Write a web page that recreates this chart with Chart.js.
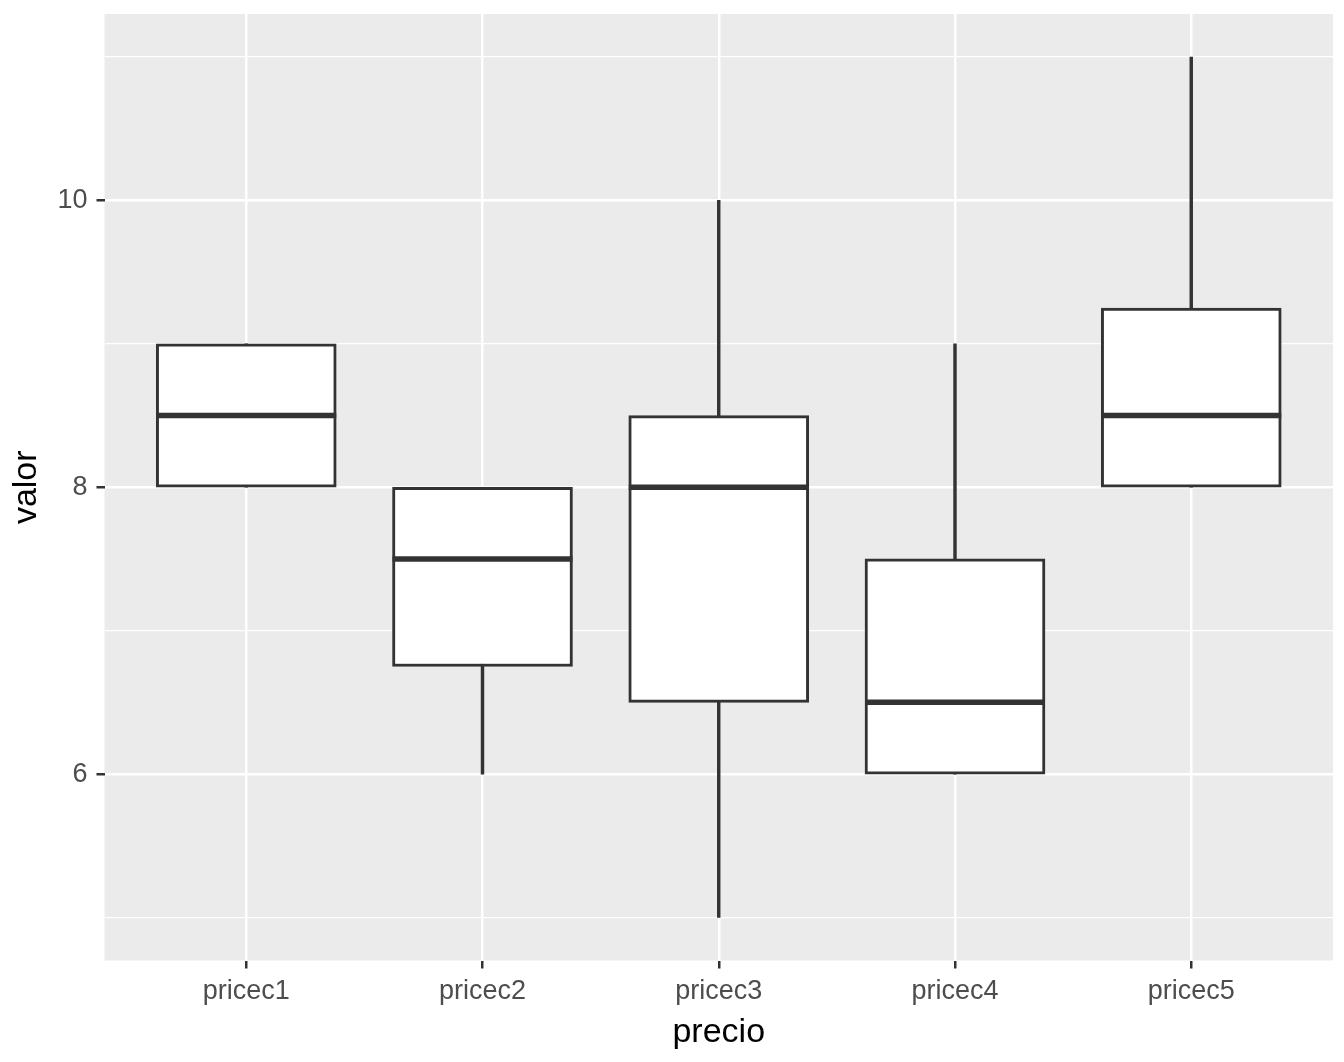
<!DOCTYPE html>
<html>
<head>
<meta charset="utf-8">
<script src="https://cdn.jsdelivr.net/npm/chart.js@4/dist/chart.umd.min.js"></script>
<style>
  html, body { margin: 0; padding: 0; background: #ffffff; }
  #wrap { width: 1344px; height: 1062px; }
</style>
</head>
<body>
<div id="wrap"><canvas id="c" width="1344" height="1062"></canvas></div>
<script>
// ---- data ----
const categories = ['pricec1', 'pricec2', 'pricec3', 'pricec4', 'pricec5'];
const whiskerLow  = [8,    6,    5,   6,   8];
const q1          = [8,    6.75, 6.5, 6,   8];
const median      = [8.5,  7.5,  8,   6.5, 8.5];
const q3          = [9,    8,    8.5, 7.5, 9.25];
const whiskerHigh = [9,    8,    10,  9,   11];
const yMajorTicks = [6, 8, 10];
const yMinorTicks = [5, 7, 9, 11];
const yRange = [4.7, 11.3];
const xRange = [0.4, 5.6];

const FONT = "'Liberation Sans', Arial, Helvetica, sans-serif";
const DARK = '#333333';

const boxData = categories.map((c, i) => ({ x: i + 1, y: [q1[i], q3[i]] }));
const whiskerData = categories.map((c, i) => ({ x: i + 1, y: [whiskerLow[i], whiskerHigh[i]] }));

const panelBg = {
  id: 'panelBg',
  beforeDraw(chart) {
    const { ctx, chartArea: a } = chart;
    ctx.save();
    ctx.fillStyle = '#EBEBEB';
    ctx.fillRect(a.left, a.top, a.right - a.left, a.bottom - a.top);
    ctx.restore();
  }
};

const medianLines = {
  id: 'medianLines',
  afterDatasetsDraw(chart) {
    const { ctx } = chart;
    const meta = chart.getDatasetMeta(1);
    const ys = chart.scales.y;
    ctx.save();
    ctx.strokeStyle = DARK;
    ctx.lineWidth = 5.5;
    ctx.lineCap = 'butt';
    meta.data.forEach((el, i) => {
      const py = ys.getPixelForValue(median[i]);
      const half = el.width / 2;
      ctx.beginPath();
      ctx.moveTo(el.x - half, py);
      ctx.lineTo(el.x + half, py);
      ctx.stroke();
    });
    ctx.restore();
  }
};

new Chart(document.getElementById('c'), {
  type: 'bar',
  data: {
    datasets: [
      {
        label: 'whiskers',
        data: whiskerData,
        backgroundColor: DARK,
        borderWidth: 0,
        barThickness: 2.8,
        grouped: false,
        order: 2
      },
      {
        label: 'boxes',
        data: boxData,
        backgroundColor: '#FFFFFF',
        borderColor: DARK,
        borderWidth: 3,
        borderSkipped: false,
        barThickness: 180,
        grouped: false,
        order: 1
      }
    ]
  },
  options: {
    responsive: false,
    animation: false,
    layout: { padding: { left: 0, right: 11, top: 14, bottom: 0 } },
    plugins: { legend: { display: false }, tooltip: { enabled: false } },
    scales: {
      x: {
        type: 'linear',
        min: xRange[0],
        max: xRange[1],
        offset: false,
        afterBuildTicks(scale) {
          scale.ticks = categories.map((c, i) => ({ value: i + 1 }));
        },
        afterFit(scale) {
          scale.height = 101.5;
          scale.paddingLeft = 0;
          scale.paddingRight = 0;
        },
        border: { display: false },
        grid: {
          offset: false,
          color: '#FFFFFF',
          lineWidth: 2.5,
          tickColor: DARK,
          tickWidth: 2.5,
          tickLength: 8,
          drawTicks: true
        },
        ticks: {
          autoSkip: false,
          maxRotation: 0,
          padding: 7,
          color: '#4D4D4D',
          font: { family: FONT, size: 27 },
          callback: (v) => categories[Math.round(v) - 1] || ''
        },
        title: {
          display: true,
          text: 'precio',
          color: '#000000',
          font: { family: FONT, size: 34 },
          padding: { top: 0, bottom: 9 }
        }
      },
      y: {
        type: 'linear',
        min: yRange[0],
        max: yRange[1],
        afterBuildTicks(scale) {
          scale.ticks = [...yMinorTicks, ...yMajorTicks].sort((a, b) => a - b).map(v => ({ value: v }));
        },
        afterFit(scale) {
          scale.width = 104.5;
          scale.paddingTop = 0;
          scale.paddingBottom = 0;
        },
        border: { display: false },
        grid: {
          color: '#FFFFFF',
          lineWidth: (ctx) => yMajorTicks.includes(ctx.tick && ctx.tick.value) ? 2.5 : 1.2,
          tickColor: (ctx) => yMajorTicks.includes(ctx.tick && ctx.tick.value) ? DARK : 'rgba(0,0,0,0)',
          tickWidth: 2.5,
          tickLength: 8,
          drawTicks: true
        },
        ticks: {
          padding: 9,
          color: '#4D4D4D',
          font: { family: FONT, size: 27 },
          callback: (v) => yMajorTicks.includes(v) ? String(v) : ''
        },
        title: {
          display: true,
          text: 'valor',
          color: '#000000',
          font: { family: FONT, size: 34 },
          padding: { top: 6, bottom: 0 }
        }
      }
    }
  },
  plugins: [panelBg, medianLines]
});
</script>
</body>
</html>
